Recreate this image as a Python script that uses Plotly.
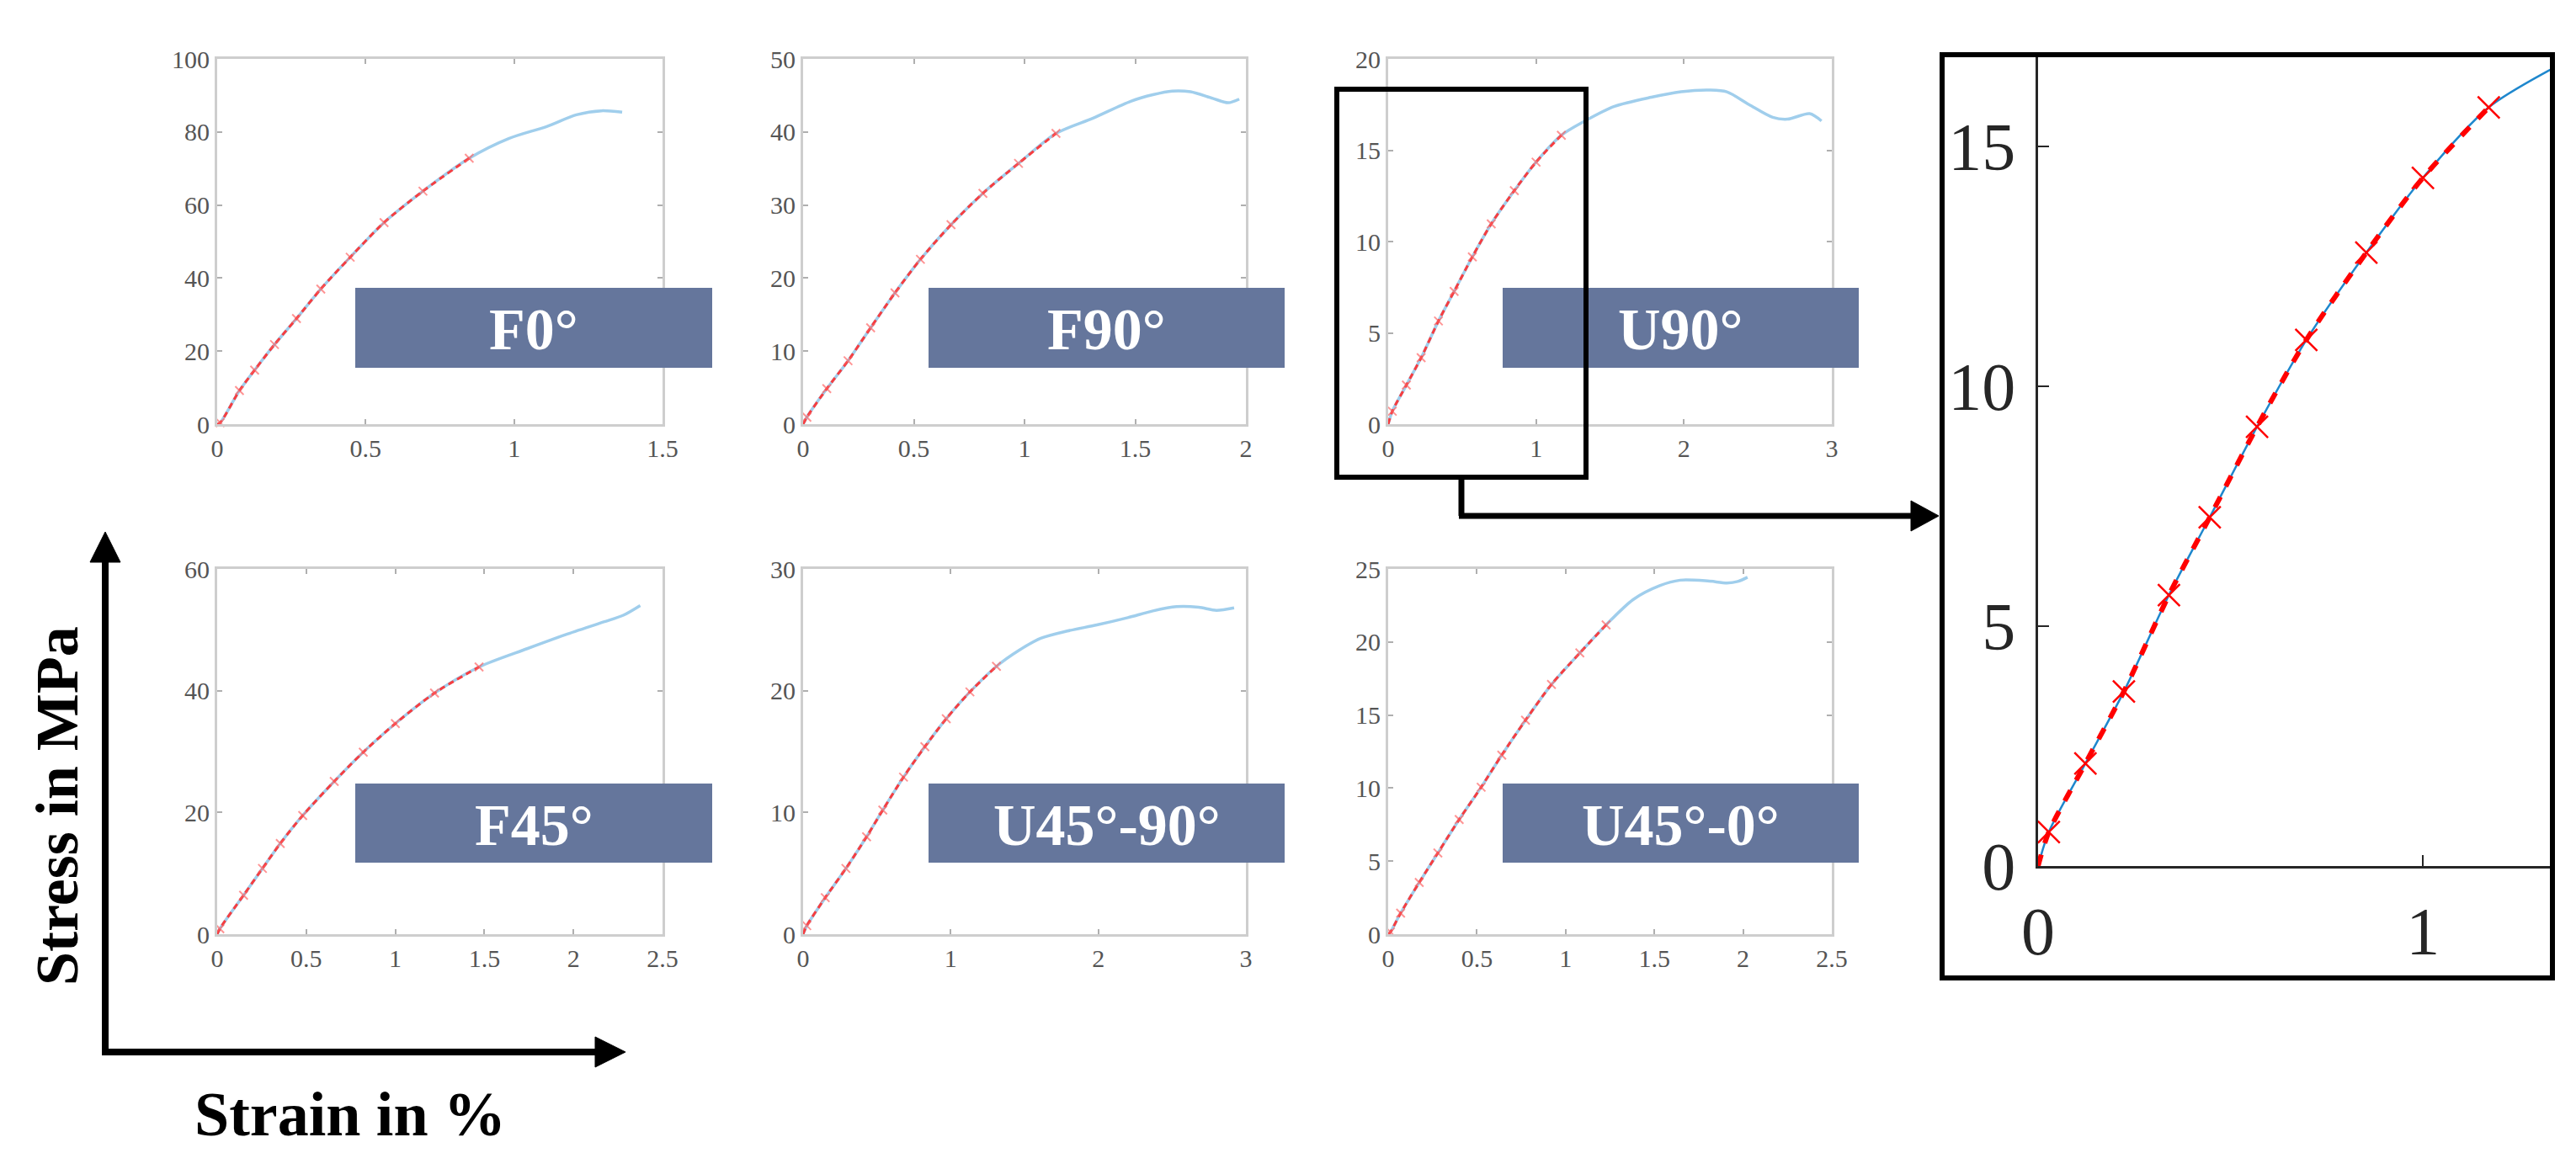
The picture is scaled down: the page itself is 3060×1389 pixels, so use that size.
import plotly.graph_objects as go

W, H = 3060, 1389
OFF = 8  # page body margin of the browser

# ---------------- data ----------------
panel_names = ["F0°", "F90°", "U90°", "F45°", "U45°-90°", "U45°-0°"]

F0_fit_strain = [0.01, 0.075, 0.126, 0.193, 0.267, 0.349, 0.448, 0.562, 0.693, 0.849]
F0_fit_stress = [0.4, 9.2, 14.8, 21.8, 28.9, 37.0, 45.7, 55.2, 63.8, 72.8]
F0_tail_strain = [0.982, 1.11, 1.21, 1.294, 1.364]
F0_tail_stress = [78.2, 81.5, 84.7, 85.8, 85.4]

F90_fit_strain = [0.017, 0.107, 0.203, 0.305, 0.415, 0.53, 0.668, 0.812, 0.973, 1.142]
F90_fit_stress = [0.96, 4.86, 8.68, 13.2, 17.98, 22.57, 27.3, 31.6, 35.7, 39.8]
F90_tail_strain = [1.31, 1.48, 1.58, 1.667, 1.75, 1.85, 1.92, 1.97]
F90_tail_stress = [41.9, 44.2, 45.1, 45.6, 45.5, 44.6, 44.0, 44.5]

U90_fit_strain = [0.028, 0.123, 0.223, 0.34, 0.446, 0.569, 0.697, 0.853, 1.0, 1.171]
U90_fit_stress = [0.71, 2.14, 3.64, 5.65, 7.27, 9.16, 10.97, 12.79, 14.35, 15.82]
U90_tail_strain = [1.33, 1.53, 1.78, 1.98, 2.16, 2.29, 2.44, 2.6, 2.7, 2.85, 2.93]
U90_tail_stress = [16.6, 17.4, 17.9, 18.2, 18.3, 18.2, 17.5, 16.8, 16.7, 17.0, 16.6]

F45_fit_strain = [0.015, 0.148, 0.254, 0.354, 0.48, 0.657, 0.82, 1.0, 1.22, 1.47]
F45_fit_stress = [0.9, 6.4, 10.8, 14.9, 19.5, 25.1, 29.9, 34.6, 39.6, 43.9]
F45_tail_strain = [1.74, 1.955, 2.17, 2.28, 2.375]
F45_tail_stress = [46.9, 49.2, 51.3, 52.4, 54.0]

U4590_fit_strain = [0.025, 0.15, 0.29, 0.43, 0.54, 0.68, 0.825, 0.97, 1.13, 1.31]
U4590_fit_stress = [0.7, 3.0, 5.4, 8.0, 10.2, 12.9, 15.4, 17.7, 19.9, 22.0]
U4590_tail_strain = [1.46, 1.61, 1.79, 1.99, 2.2, 2.37, 2.53, 2.68, 2.8, 2.92]
U4590_tail_stress = [23.3, 24.3, 24.9, 25.4, 26.0, 26.55, 26.9, 26.85, 26.6, 26.8]

U450_fit_strain = [0.013, 0.07, 0.175, 0.28, 0.40, 0.524, 0.64, 0.774, 0.92, 1.08, 1.228]
U450_fit_stress = [0.15, 1.44, 3.54, 5.56, 7.85, 10.06, 12.26, 14.65, 17.09, 19.25, 21.17]
U450_tail_strain = [1.38, 1.53, 1.645, 1.80, 1.91, 1.97, 2.025]
U450_tail_stress = [22.9, 23.85, 24.23, 24.18, 24.04, 24.14, 24.43]

# tick values / axis extents
F0_xticks, F0_yticks = [0, 0.5, 1, 1.5], [0, 20, 40, 60, 80, 100]
F90_xticks, F90_yticks = [0, 0.5, 1, 1.5, 2], [0, 10, 20, 30, 40, 50]
U90_xticks, U90_yticks = [0, 1, 2, 3], [0, 5, 10, 15, 20]
F45_xticks, F45_yticks = [0, 0.5, 1, 1.5, 2, 2.5], [0, 20, 40, 60]
U4590_xticks, U4590_yticks = [0, 1, 2, 3], [0, 10, 20, 30]
U450_xticks, U450_yticks = [0, 0.5, 1, 1.5, 2, 2.5], [0, 5, 10, 15, 20, 25]

zoom_xticks, zoom_yticks = [0, 1], [0, 5, 10, 15]
zoom_xmax, zoom_ymax = 1.33, 16.9

axis_titles = ["Stress in MPa", "Strain in %"]

panels = [
    (F0_fit_strain, F0_fit_stress, F0_tail_strain, F0_tail_stress, F0_xticks, F0_yticks),
    (F90_fit_strain, F90_fit_stress, F90_tail_strain, F90_tail_stress, F90_xticks, F90_yticks),
    (U90_fit_strain, U90_fit_stress, U90_tail_strain, U90_tail_stress, U90_xticks, U90_yticks),
    (F45_fit_strain, F45_fit_stress, F45_tail_strain, F45_tail_stress, F45_xticks, F45_yticks),
    (U4590_fit_strain, U4590_fit_stress, U4590_tail_strain, U4590_tail_stress, U4590_xticks, U4590_yticks),
    (U450_fit_strain, U450_fit_stress, U450_tail_strain, U450_tail_stress, U450_xticks, U450_yticks),
]

# ---------------- layout geometry (screen pixels) ----------------
FW, FH = W - OFF, H - OFF


def PX(x):
    return (x - OFF) / FW


def PY(y):
    return 1 - (y - OFF) / FH


col_x = [(258, 787), (954, 1480), (1649, 2176)]
row_y = [(70, 504), (676, 1110)]
box_x = [(422, 846), (1103, 1526), (1785, 2208)]
box_y = [(342, 437), (931, 1025)]

SERIF = "Liberation Serif"
BLUE_S = "rgb(160,206,236)"
RED_S = "rgba(255,45,45,0.9)"
BOX = "rgb(101,118,156)"

fig = go.Figure()
shapes = []
annotations = []

for i, (fx, fy, tx, ty, xt, yt) in enumerate(panels):
    r, c = divmod(i, 3)
    n = i + 1
    xa = "x" if n == 1 else f"x{n}"
    ya = "y" if n == 1 else f"y{n}"
    fig.add_trace(go.Scatter(x=[0] + fx + tx, y=[0] + fy + ty, mode="lines",
                             line=dict(color=BLUE_S, width=3.5, shape="spline", smoothing=0.8),
                             xaxis=xa, yaxis=ya, showlegend=False, cliponaxis=False))
    fig.add_trace(go.Scatter(x=[0] + fx, y=[0] + fy, mode="lines",
                             line=dict(color=RED_S, width=3, dash="7px,5px", shape="spline", smoothing=0.8),
                             xaxis=xa, yaxis=ya, showlegend=False, cliponaxis=False))
    fig.add_trace(go.Scatter(x=fx, y=fy, mode="markers",
                             marker=dict(symbol="x-thin", size=10, line=dict(color="rgba(255,90,90,0.65)", width=2)),
                             xaxis=xa, yaxis=ya, showlegend=False, cliponaxis=False))
    common = dict(showline=True, linecolor="rgb(206,206,206)", linewidth=3, mirror="ticks",
                  ticks="inside", ticklen=6, tickwidth=2, tickcolor="rgb(175,175,175)",
                  showgrid=False, zeroline=False, automargin=False,
                  tickfont=dict(family=SERIF, size=30, color="rgb(85,85,85)"))
    xkey = "xaxis" if n == 1 else f"xaxis{n}"
    ykey = "yaxis" if n == 1 else f"yaxis{n}"
    fig.update_layout({
        xkey: dict(domain=[PX(col_x[c][0]), PX(col_x[c][1])], range=[0, xt[-1]],
                   tickvals=xt, anchor=ya, ticklabelstandoff=0, **common),
        ykey: dict(domain=[PY(row_y[r][1]), PY(row_y[r][0])], range=[0, yt[-1]],
                   tickvals=yt, anchor=xa, ticklabelstandoff=0, **common),
    })
    # label box
    shapes.append(dict(type="rect", xref="paper", yref="paper", layer="above",
                       x0=PX(box_x[c][0]), x1=PX(box_x[c][1]),
                       y0=PY(box_y[r][1]), y1=PY(box_y[r][0]),
                       fillcolor=BOX, line=dict(width=0)))
    annotations.append(dict(xref="paper", yref="paper", showarrow=False,
                            x=PX((box_x[c][0] + box_x[c][1]) / 2),
                            y=PY((box_y[r][0] + box_y[r][1]) / 2 + 2),
                            text=panel_names[i], xanchor="center", yanchor="middle",
                            font=dict(family=SERIF, size=70, color="white", weight="bold")))

# ---------------- zoomed U90 panel ----------------
fig.add_trace(go.Scatter(x=[0] + U90_fit_strain + U90_tail_strain, y=[0] + U90_fit_stress + U90_tail_stress,
                         mode="lines", line=dict(color="rgb(30,135,205)", width=2.5, shape="spline", smoothing=0.8),
                         xaxis="x7", yaxis="y7", showlegend=False))
fig.add_trace(go.Scatter(x=[0] + U90_fit_strain, y=[0] + U90_fit_stress, mode="lines",
                         line=dict(color="rgb(255,0,0)", width=6, dash="14px,14px", shape="spline", smoothing=0.8),
                         xaxis="x7", yaxis="y7", showlegend=False, cliponaxis=False))
fig.add_trace(go.Scatter(x=U90_fit_strain, y=U90_fit_stress, mode="markers",
                         marker=dict(symbol="x-thin", size=26, line=dict(color="rgb(255,0,0)", width=2.5)),
                         xaxis="x7", yaxis="y7", showlegend=False, cliponaxis=False))
zcommon = dict(showline=True, linecolor="rgb(38,38,38)", linewidth=2.5, mirror=False,
               ticks="inside", ticklen=13, tickwidth=2, tickcolor="rgb(38,38,38)",
               showgrid=False, zeroline=False, automargin=False,
               tickfont=dict(family=SERIF, size=80, color="rgb(38,38,38)"))
fig.update_layout(
    xaxis7=dict(domain=[PX(2421), PX(3029)], range=[0, zoom_xmax], tickvals=zoom_xticks,
                anchor="y7", ticklabelstandoff=6, **zcommon),
    yaxis7=dict(domain=[PY(1029), PY(66)], range=[0, zoom_ymax], tickvals=zoom_yticks,
                anchor="x7", ticklabelstandoff=8, **zcommon),
)

# ---------------- decorations ----------------
def rect(x0, y0, x1, y1, w, color="black"):
    return dict(type="rect", xref="paper", yref="paper", layer="above",
                x0=PX(x0), x1=PX(x1), y0=PY(y1), y1=PY(y0),
                line=dict(color=color, width=w), fillcolor="rgba(0,0,0,0)")


def seg(x0, y0, x1, y1, w):
    return dict(type="line", xref="paper", yref="paper", layer="above",
                x0=PX(x0), y0=PY(y0), x1=PX(x1), y1=PY(y1),
                line=dict(color="black", width=w))


def tri(pts):
    p = "M " + " L ".join(f"{PX(x):.6f},{PY(y):.6f}" for x, y in pts) + " Z"
    return dict(type="path", xref="paper", yref="paper", layer="above", path=p,
                fillcolor="black", line=dict(color="black", width=1))


shapes.append(rect(1588, 106, 1884, 567, 6))          # highlight box on U90
shapes.append(rect(2307, 65, 3032, 1162, 6))          # zoom panel frame
shapes.append(seg(1736, 567, 1736, 613, 7))           # connector down
shapes.append(seg(1733, 613, 2272, 613, 7))           # connector right
shapes.append(tri([(2303, 613), (2270, 595), (2270, 631)]))
shapes.append(seg(125, 664, 125, 1254, 8))            # left vertical axis arrow
shapes.append(seg(121, 1250, 710, 1250, 8))           # bottom horizontal arrow
shapes.append(tri([(125, 632), (107, 668), (143, 668)]))
shapes.append(tri([(743, 1250), (707, 1232), (707, 1268)]))

annotations.append(dict(xref="paper", yref="paper", showarrow=False, x=PX(68), y=PY(958),
                        text=axis_titles[0], textangle=-90, xanchor="center", yanchor="middle",
                        font=dict(family=SERIF, size=72, color="black", weight="bold")))
annotations.append(dict(xref="paper", yref="paper", showarrow=False, x=PX(416), y=PY(1324),
                        text=axis_titles[1], xanchor="center", yanchor="middle",
                        font=dict(family=SERIF, size=74, color="black", weight="bold")))

fig.update_layout(width=FW, height=FH, autosize=False,
                  margin=dict(l=0, r=0, t=0, b=0, pad=0, autoexpand=False),
                  paper_bgcolor="white", plot_bgcolor="white",
                  shapes=shapes, annotations=annotations, showlegend=False)

fig.write_html("out.html")
